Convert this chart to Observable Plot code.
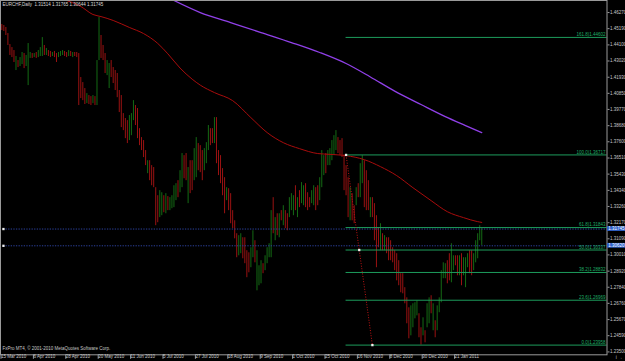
<!DOCTYPE html>
<html><head><meta charset="utf-8">
<script src="https://cdn.jsdelivr.net/npm/d3@7"></script>
<script src="https://cdn.jsdelivr.net/npm/@observablehq/plot@0.6"></script>
<style>html,body{margin:0;padding:0;background:#000;overflow:hidden}</style>
</head><body><div id="chart"></div>
<script>
const title = "EURCHF,Daily  1.31514 1.31765 1.30644 1.31745";
const copyright = "FxPro MT4, \u00a9 2001-2010 MetaQuotes Software Corp.";
const firstBar = 1;
const high = [
1.4547,1.4540,1.4527,1.4486,1.4412,1.4392,1.4372,1.4332,1.4305,1.4325,
1.4359,1.4352,1.4339,1.4419,1.4359,1.4352,1.4352,1.4359,1.4372,1.4392,
1.4459,1.4406,1.4386,1.4372,1.4366,1.4359,1.4366,1.4352,1.4359,1.4366,
1.4372,1.4366,1.4359,1.4372,1.4366,1.4359,1.4359,1.4359,1.4352,1.4191,
1.4157,1.4117,1.4083,1.4070,1.4063,1.4070,1.4063,1.4305,1.4594,1.4473,
1.4406,1.4352,1.4305,1.4285,1.4305,1.4258,1.4238,1.4218,1.4104,1.4070,
1.3949,1.3916,1.3902,1.3936,1.3949,1.4036,1.4003,1.3983,1.3848,1.3788,
1.3768,1.3701,1.3633,1.3633,1.3600,1.3587,1.3452,1.3398,1.3432,1.3418,
1.3398,1.3412,1.3392,1.3385,1.3398,1.3465,1.3479,1.3499,1.3566,1.3681,
1.3667,1.3681,1.3587,1.3633,1.3633,1.3714,1.3788,1.3748,1.3734,1.3701,
1.3714,1.3754,1.3869,1.3848,1.3848,1.3922,1.3922,1.3701,1.3667,1.3580,
1.3519,1.3452,1.3445,1.3412,1.3298,1.3230,1.3143,1.3130,1.3143,1.3116,
1.3116,1.3029,1.3015,1.3049,1.3163,1.3096,1.3029,1.2928,1.2962,1.2942,
1.2995,1.3049,1.3076,1.3298,1.3385,1.3251,1.3277,1.3277,1.3298,1.3331,
1.3298,1.3277,1.3385,1.3412,1.3398,1.3465,1.3385,1.3432,1.3486,1.3465,
1.3479,1.3418,1.3385,1.3432,1.3465,1.3452,1.3465,1.3519,1.3701,1.3667,
1.3681,1.3701,1.3714,1.3768,1.3801,1.3835,1.3788,1.3768,1.3781,1.3672,
1.3600,1.3519,1.3452,1.3412,1.3331,1.3452,1.3479,1.3613,1.3667,1.3633,
1.3566,1.3499,1.3385,1.3385,1.3345,1.3264,1.3183,1.3210,1.3143,1.3130,
1.3116,1.3116,1.3096,1.3049,1.3029,1.3009,1.2962,1.2875,1.2875,1.2781,
1.2713,1.2646,1.2659,1.2673,1.2680,1.2693,1.2606,1.2512,1.2579,1.2492,
1.2673,1.2713,1.2727,1.2673,1.2559,1.2659,1.2713,1.2895,1.2948,1.2942,
1.2962,1.3009,1.3076,1.2995,1.2995,1.2995,1.2995,1.3009,1.2982,1.2982,
1.3009,1.3029,1.3029,1.3009,1.3096,1.3143,1.3197,1.31765];
const low = [
1.4506,1.4500,1.4473,1.4406,1.4339,1.4325,1.4292,1.4238,1.4258,1.4265,
1.4278,1.4251,1.4265,1.4137,1.4319,1.4319,1.4325,1.4319,1.4325,1.4332,
1.4332,1.4339,1.4339,1.4332,1.4325,1.4332,1.4325,1.4292,1.4325,1.4332,
1.4339,1.4332,1.4325,1.4332,1.4332,1.4325,1.4332,1.4325,1.4003,1.4050,
1.4036,1.4010,1.4016,1.4010,1.4003,1.4016,1.4003,1.4003,1.4305,1.4319,
1.4305,1.4218,1.4204,1.4117,1.4191,1.4151,1.4104,1.4056,1.3956,1.3855,
1.3835,1.3781,1.3748,1.3768,1.3801,1.3902,1.3869,1.3781,1.3734,1.3701,
1.3654,1.3600,1.3546,1.3499,1.3465,1.3452,1.3197,1.3217,1.3251,1.3264,
1.3284,1.3277,1.3298,1.3298,1.3311,1.3318,1.3365,1.3385,1.3418,1.3452,
1.3512,1.3499,1.3345,1.3412,1.3432,1.3499,1.3519,1.3566,1.3553,1.3499,
1.3566,1.3613,1.3701,1.3734,1.3748,1.3748,1.3613,1.3533,1.3479,1.3398,
1.3277,1.3365,1.3298,1.3210,1.3177,1.3109,1.2982,1.2995,1.3009,1.2975,
1.2942,1.2848,1.2881,1.2915,1.2982,1.2948,1.2760,1.2794,1.2807,1.2875,
1.2895,1.2942,1.2982,1.2982,1.3143,1.3096,1.3130,1.3116,1.3230,1.3197,
1.3177,1.3163,1.3251,1.3298,1.3264,1.3298,1.3251,1.3318,1.3345,1.3331,
1.3318,1.3298,1.3318,1.3345,1.3331,1.3298,1.3331,1.3365,1.3452,1.3533,
1.3546,1.3600,1.3600,1.3633,1.3667,1.3701,1.3681,1.3667,1.3654,1.3432,
1.3398,1.3251,1.3230,1.3230,1.3210,1.3331,1.3385,1.3385,1.3479,1.3318,
1.3298,1.3298,1.3251,1.3251,1.3096,1.2915,1.3049,1.3029,1.3029,1.3029,
1.3009,1.2962,1.2962,1.2948,1.2895,1.2827,1.2794,1.2747,1.2740,1.2673,
1.2539,1.2438,1.2458,1.2512,1.2572,1.2592,1.2445,1.2396,1.2458,1.2411,
1.2512,1.2539,1.2606,1.2492,1.2445,1.2492,1.2613,1.2680,1.2841,1.2841,
1.2807,1.2827,1.2814,1.2895,1.2928,1.2861,1.2861,1.2794,1.2861,1.2781,
1.2915,1.2875,1.2861,1.2895,1.2948,1.2975,1.3096,1.30644];
const dir = ("dddddddudu"+"uduuududuu"+"ududdudduu"+"uddududddd"+"ddudduduud"+
  "dduudddddd"+"ddduuudddd"+"dduddddduu"+"duduuuuduu"+"ddudduuddd"+
  "uuuddudddd"+"duddddduud"+"ddduuduuud"+"uuuudududu"+"dduuududuu"+
  "ddduudduuu"+"duuuuudddd"+"ddudduduud"+"dduddddudu"+"dddddddddd"+
  "dduuuuddud"+"uududuuuuu"+"dduudduduu"+"udduuuuu").split("");

const maRedIdx = [33,40,46,50,56,64,71,78,83,89,95,99,106,115,124,132,140,148,157,165,171,180,188,196,204,213,221,229,236,238];
const maRedVal = [1.4708,1.4668,1.4614,1.4600,1.4574,1.4527,1.4486,1.4420,1.4350,1.4255,1.4180,1.4140,1.4090,1.4036,1.3922,1.3822,1.3754,1.3714,1.3681,1.3674,1.3667,1.3640,1.3593,1.3533,1.3452,1.3365,1.3291,1.3251,1.3224,1.3219];
const maPurpleIdx = [86,99,114,129,144,158,171,183,195,208,220,230,238];
const maPurpleVal = [1.4708,1.4627,1.4560,1.4493,1.4426,1.4359,1.4285,1.4195,1.4100,1.4010,1.3929,1.3869,1.3822];

const xTickIdx = [0,16,32,48,64,80,96,112,128,144,160,176,192,208,224];
const xLabels = ["15 Mar 2010","6 Apr 2010","28 Apr 2010","20 May 2010","11 Jun 2010","5 Jul 2010","27 Jul 2010","18 Aug 2010","9 Sep 2010","1 Oct 2010","25 Oct 2010","16 Nov 2010","8 Dec 2010","30 Dec 2010","21 Jan 2011"];
const yTicks = [1.46270,1.45190,1.44100,1.43020,1.41930,1.40850,1.39770,1.38680,1.37600,1.36510,1.35430,1.34340,1.33260,1.32170,1.31090,1.30010,1.28920,1.27840,1.26760,1.25670,1.24590,1.23500];

const fibHigh = 1.36717, fibLow = 1.23958;
const fibT1 = 171, fibT2 = 184;
const fibLevels = [1.618, 1.0, 0.618, 0.5, 0.382, 0.236, 0.0];
const fibNames = ["161.8","100.0","61.8","50.0","38.2","23.6","0.0"];
const hLines = [1.31745, 1.30620];
const hLineStart = 1.8;

const bars = high.map((h,k)=>({i:firstBar+k, high:h, low:low[k], dir:dir[k]}));
const maRed = maRedIdx.map((i,k)=>({i, v:maRedVal[k]}));
const maPurple = maPurpleIdx.map((i,k)=>({i, v:maPurpleVal[k]}));
const fib = fibLevels.map((f,k)=>({f, name:fibNames[k], v: fibLow + f*(fibHigh-fibLow)}));
const xMax = 299.85;

const FONT = "Liberation Sans, Arial, sans-serif";
const plot = Plot.plot({
  width: 625, height: 361,
  marginLeft: 0, marginRight: 18.5, marginTop: 0, marginBottom: 6.7,
  style: {background: "#000", color: "#c8c8c8", fontFamily: FONT, fontSize: "4.5px"},
  x: {domain: [0.35, xMax], axis: null},
  y: {domain: [1.23307, 1.47079], axis: null},
  marks: [
    Plot.ruleX(bars, {x: "i", y1: "low", y2: "high", strokeWidth: 1,
      stroke: d => d.dir === "u" ? "#146a14" : "#9a1212"}),
    Plot.line(maPurple, {x: "i", y: "v", stroke: "#9040e8", strokeWidth: 1.3, curve: "monotone-x"}),
    Plot.line(maRed, {x: "i", y: "v", stroke: "#a80c0c", strokeWidth: 1, curve: "monotone-x"}),
    Plot.ruleY(hLines, {x1: hLineStart, x2: xMax, stroke: "#2c409c", strokeWidth: 1, strokeDasharray: "1.3,1.3"}),
    Plot.ruleY(fib, {y: "v", x1: fibT1, x2: xMax, stroke: "#1d9c5c", strokeWidth: 1}),
    Plot.link([{}], {x1: fibT1, y1: fibHigh, x2: fibT2, y2: fibLow, stroke: "#c01414", strokeWidth: 1, strokeDasharray: "1,1.6"}),
    Plot.text(fib, {x: xMax, y: "v", text: d => d.name + ")" + d.v.toFixed(5), textAnchor: "end", dx: -1.5, dy: -2.6, fill: "#1fae66", fontSize: 4.5}),
    Plot.dot([{i: fibT1, v: fibHigh}, {i: (fibT1+fibT2)/2, v: (fibHigh+fibLow)/2}, {i: fibT2, v: fibLow},
              {i: hLineStart, v: hLines[0]}, {i: hLineStart, v: hLines[1]}],
      {x: "i", y: "v", symbol: "square", r: 1.3, fill: "#f0f0f0", stroke: "none"}),
    Plot.frame({stroke: "#9a9a9a", strokeWidth: 1}),
    Plot.axisY({anchor: "right", ticks: yTicks, tickFormat: d => d.toFixed(5), tickSize: 2, tickPadding: 1, stroke: "#9a9a9a", fill: "#c8c8c8", fontSize: 4.5}),
    Plot.axisX({anchor: "bottom", ticks: xTickIdx, tickFormat: (d) => xLabels[xTickIdx.indexOf(d)], tickSize: 4.5, tickPadding: -4.6, textAnchor: "start", dx: 1.2, stroke: "#9a9a9a", fill: "#c8c8c8", fontSize: 4.5}),
    Plot.rect(hLines, {x1: xMax + 0.3, x2: xMax + 12, y1: d => d - 0.0016, y2: d => d + 0.0016, fill: "#2f62cc"}),
    Plot.text(hLines, {x: xMax + 0.6, y: d => d, text: d => d.toFixed(5), textAnchor: "start", fill: "#ffffff", fontSize: 4.5}),
    Plot.text([title], {frameAnchor: "top-left", dx: 2, dy: 2.5, fill: "#d8d8d8", fontSize: 4.5}),
    Plot.text([copyright], {frameAnchor: "bottom-left", dx: 2, dy: -4.5, fill: "#c8c8c8", fontSize: 4.5})
  ]
});
document.getElementById("chart").appendChild(plot);
</script>
</body></html>
